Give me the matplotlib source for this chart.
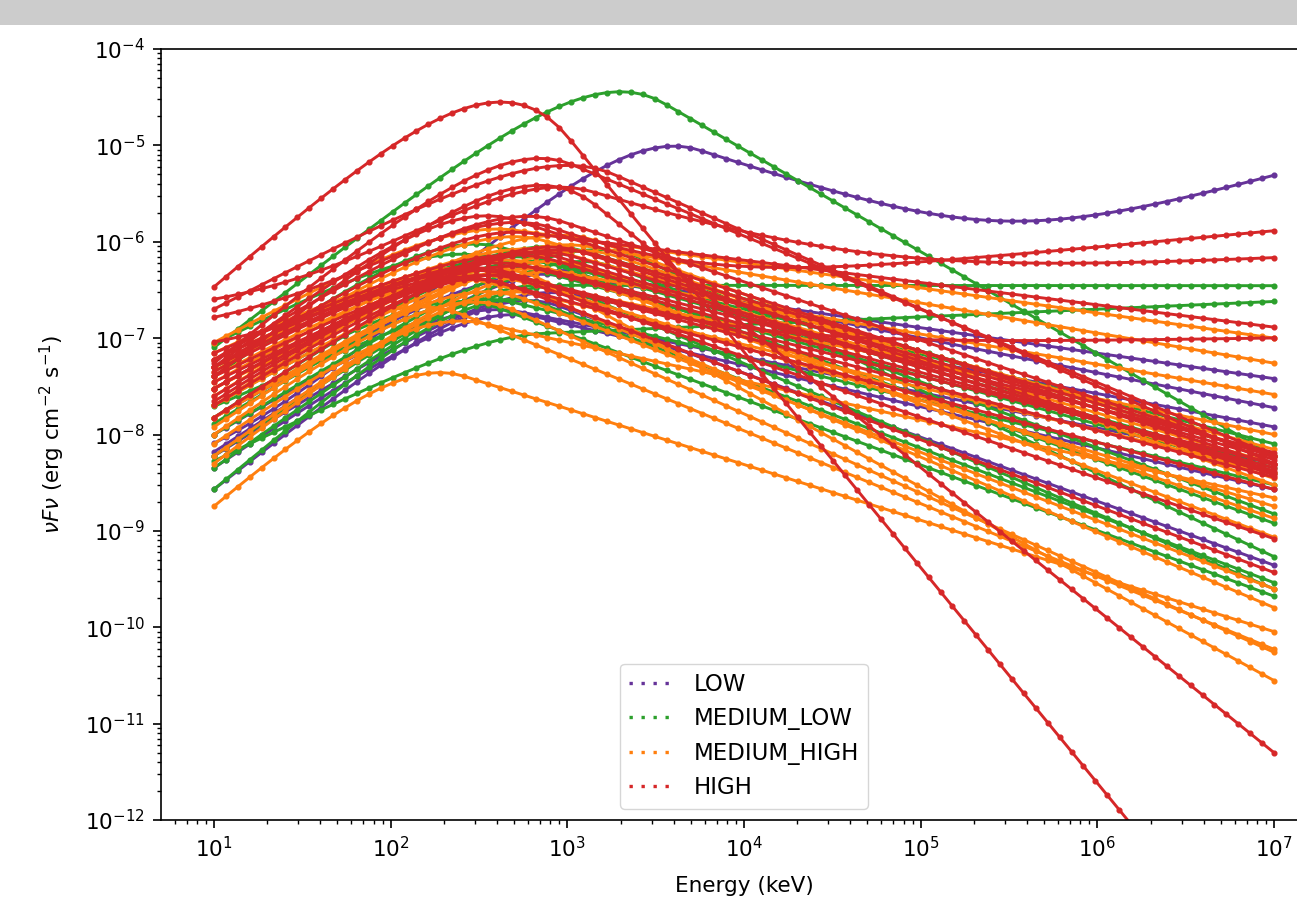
import numpy as np
import matplotlib.pyplot as plt
from matplotlib.lines import Line2D
from matplotlib.patches import Rectangle

# energy grid the spectra are evaluated on (keV)
energy = np.geomspace(10, 1e7, 90)

# band spectra, one entry per burst:
# f10 = nuFnu at 10 keV, ep = peak energy (keV), alpha = low index,
# f7 = nuFnu at 1e7 keV (beta is solved from it)
low_f10 = [1.5e-8, 6.6e-9, 6e-9, 2.7e-9, 1e-8, 4.5e-9]
low_ep = [700, 1000, 800, 600, 400, 500]
low_alpha = [-0.95, -0.8, -0.85, -0.55, -0.9, -0.75]
low_f7 = [3.8e-8, 1.9e-8, 1.2e-8, 4.4e-10, 5e-9, 2.7e-9]

medlow_f10 = [8e-8, 1.96e-8, 5.3e-9, 4e-8, 1.5e-8, 1e-8, 2.7e-9, 6e-9,
              2e-8, 8.7e-8, 3e-8, 1.3e-8, 4.5e-9, 5e-8]
medlow_ep = [2000, 1000, 800, 300, 600, 1500, 500, 700,
             250, 250, 800, 350, 1200, 500]
medlow_alpha = [-0.58, -1.2, -1.1, -0.7, -0.8, -0.9, -0.45, -0.75,
                -0.9, -1.05, -1.0, -0.85, -0.7, -1.1]
medlow_f7 = [6e-9, 3.5e-7, 2.4e-7, 8e-9, 1.2e-9, 5.4e-10, 2.9e-10, 2.5e-10,
             2.1e-10, 4e-9, 6e-9, 3e-9, 1.5e-9, 4.5e-9]

medhigh_f10 = [1.8e-9, 9e-8, 3e-8, 2e-8, 4e-8, 1.5e-8, 2e-8, 1e-8, 3e-8, 5e-9,
               6e-9, 5e-8, 2.5e-8, 6e-8, 1.2e-8, 3.5e-8, 7e-8, 8e-9, 4.5e-8, 1.5e-8]
medhigh_ep = [190, 400, 1000, 600, 300, 800, 400, 300, 150, 500,
              800, 250, 450, 600, 350, 900, 200, 250, 500, 1200]
medhigh_alpha = [-0.4, -1.0, -1.05, -0.95, -1.0, -0.9, -0.8, -0.7, -0.9, -0.6,
                 -0.7, -0.95, -0.85, -1.15, -0.75, -1.0, -1.1, -0.7, -0.9, -0.95]
medhigh_f7 = [9e-11, 1e-7, 5.5e-8, 2.6e-8, 1e-8, 5e-9, 2.8e-11, 5.5e-11, 5.9e-11, 1.6e-10,
              8.6e-10, 1.8e-9, 1.35e-9, 7e-9, 2.5e-10, 3e-9, 4e-9, 2.2e-9, 6e-9, 3.5e-9]

high_f10 = [3.4e-7, 5.5e-8, 2.0e-7, 4e-8, 5e-8, 4e-8, 3e-8, 6e-8, 2.5e-8,
            5e-8, 3.5e-8, 2e-8, 7e-8, 1.5e-8, 4.5e-8, 3e-8, 2.2e-8, 5e-8, 6e-8]
high_ep = [420, 700, 1000, 700, 500, 500, 700, 400, 600,
           300, 900, 400, 500, 800, 250, 350, 300, 350, 600]
high_alpha = [-0.4, -0.5, -1.05, -0.6, -0.9, -1.1, -1.0, -1.15, -0.9,
              -1.05, -1.1, -0.85, -1.2, -0.8, -1.0, -0.95, -0.8, -0.6, -0.9]
high_f7 = [1.4e-14, 6e-9, 5e-9, 5e-12, 1.3e-7, 6.5e-9, 5.5e-9, 4.5e-9, 4e-9,
           3.6e-9, 6e-9, 5e-9, 4.2e-9, 3.8e-9, 2.7e-9, 8.3e-10, 3.7e-10, 4.8e-9, 5.8e-9]

# bursts whose spectrum needs an extra power law (band + pl)
# pl7 = power law nuFnu at 1e7 keV, pls = its nuFnu slope
bpl_cat = [0, 3, 3, 3]
bpl_f10 = [3.3e-9, 4e-8, 6e-8, 2.5e-8]
bpl_ep = [4000, 500, 900, 300]
bpl_alpha = [-0.4, -0.8, -0.85, -0.8]
bpl_beta = [-2.6, -2.8, -2.6, -2.7]
bpl_pl7 = [4.8e-6, 1.3e-6, 6.7e-7, 1e-7]
bpl_pls = [0.5, 0.17, 0.09, 0.03]

labels = ['LOW', 'MEDIUM_LOW', 'MEDIUM_HIGH', 'HIGH']
colors = ['#663399', '#2ca02c', '#ff7f0e', '#d62728']


"""
band function in nuFnu, normalised to f10 at 10 keV
"""
def band_vfv(e, f10, ep, alpha, beta):
  e0 = ep / (2 + alpha)
  eb = (alpha - beta) * e0
  k = f10 / (10.0 ** (2 + alpha) * np.exp(-10.0 / e0))
  low = k * e ** (2 + alpha) * np.exp(-e / e0)
  high = k * eb ** (alpha - beta) * np.exp(beta - alpha) * e ** (2 + beta)
  return np.where(e < eb, low, high)


"""
find the high energy index that puts the spectrum at f7 at 1e7 keV (bisection)
"""
def solve_beta(f10, ep, alpha, f7):
  lo, hi = -8.0, -1.55
  for i in range(60):
    mid = 0.5 * (lo + hi)
    if band_vfv(1e7, f10, ep, alpha, mid) < f7:
      lo = mid
    else:
      hi = mid
  return 0.5 * (lo + hi)


groups = [
  (low_f10, low_ep, low_alpha, low_f7),
  (medlow_f10, medlow_ep, medlow_alpha, medlow_f7),
  (medhigh_f10, medhigh_ep, medhigh_alpha, medhigh_f7),
  (high_f10, high_ep, high_alpha, high_f7),
]

plt.rcParams['font.size'] = 15.5

fig = plt.figure(figsize=(12.97, 9.19), dpi=100)
# grey strip along the top of the screenshot
fig.patches.append(Rectangle((0, 1 - 25 / 919), 1, 25 / 919, transform=fig.transFigure,
                             facecolor='#cccccc', edgecolor='none'))
ax = fig.add_axes([161 / 1297, 99 / 919, 1166 / 1297, 771 / 919])

style = dict(lw=2.1, marker='o', ms=3.4)
for i, (g, color) in enumerate(zip(groups, colors)):
  for f10, ep, a, f7 in zip(*g):
    b = solve_beta(f10, ep, a, f7)
    ax.plot(energy, band_vfv(energy, f10, ep, a, b), color=color, **style)
  for j in range(len(bpl_cat)):
    if bpl_cat[j] != i:
      continue
    vfv = band_vfv(energy, bpl_f10[j], bpl_ep[j], bpl_alpha[j], bpl_beta[j])
    vfv = vfv + bpl_pl7[j] * (energy / 1e7) ** bpl_pls[j]
    ax.plot(energy, vfv, color=color, **style)

ax.set_xscale('log')
ax.set_yscale('log')
ax.set_ylim(1e-12, 1e-4)
ax.set_xlabel('Energy (keV)', labelpad=11)
ax.set_ylabel(r'$\nu F \nu$ (erg cm$^{-2}$ s$^{-1}$)', labelpad=13)
ax.tick_params(which='major', length=5.5, width=1.2, pad=6)
ax.tick_params(which='minor', length=3.2, width=1.0)
for s in ax.spines.values():
  s.set_linewidth(1.2)

handles = [Line2D([], [], color=c, ls=(0, (1, 2.6)), lw=2.4) for c in colors]
ax.legend(handles, labels, loc='lower center', fontsize=16.5)

fig.savefig('out.png')
